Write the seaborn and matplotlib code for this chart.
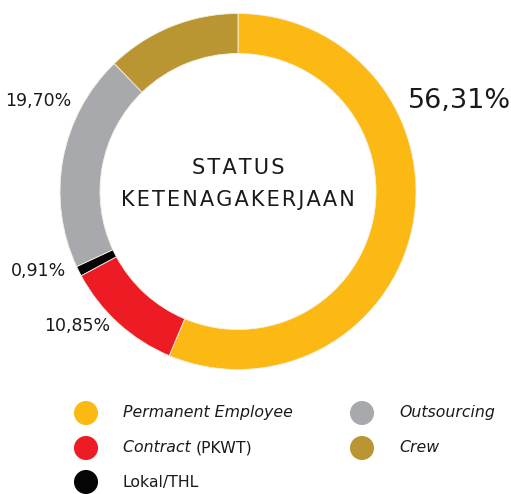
import matplotlib
matplotlib.use("Agg")
import matplotlib.pyplot as plt
import seaborn as sns
import pandas as pd

# Employment status composition (percent)
categories = ["Permanent Employee", "Contract (PKWT)", "Lokal/THL", "Outsourcing", "Crew"]
shares = [56.31, 10.85, 0.91, 19.70, 12.23]
share_labels = ["56,31%", "10,85%", "0,91%", "19,70%", None]
colors = ["#FDB913", "#ED1C24", "#050505", "#A7A9AC", "#B99632"]

sns.set_theme(style="white")
plt.rcParams["font.family"] = ["DejaVu Sans"]

W, H = 511, 494
fig = plt.figure(figsize=(W / 100, H / 100), dpi=100)
ax = fig.add_axes([0, 0, 1, 1])
ax.set_xlim(0, W)
ax.set_ylim(0, H)
ax.set_aspect("equal")
ax.axis("off")

cx, cy = 238, H - 191.5
r_out, width = 178, 40

wedges, _ = ax.pie(
    shares, colors=colors, startangle=90, counterclock=False,
    center=(cx, cy), radius=r_out, frame=True,
    wedgeprops=dict(width=width, edgecolor="#f4f0e6", linewidth=0.6),
)
ax.set_xlim(0, W)
ax.set_ylim(0, H)
ax.axis("off")

# percentage labels
label_pos = {
    "56,31%": (459, H - 101, 19.5),
    "19,70%": (38, H - 101, 12.5),
    "0,91%": (39, H - 271, 12.5),
    "10,85%": (77, H - 326, 12.5),
}
for lab in share_labels:
    if lab is None:
        continue
    x, y, fs = label_pos[lab]
    ax.text(x, y, lab, ha="center", va="center", fontsize=fs, color="#1a1a1a")

# centre title
ax.text(cx, H - 168, "\u200a".join("STATUS"), ha="center", va="center",
        fontsize=15, color="#1a1a1a")
ax.text(cx, H - 200, "\u200a".join("KETENAGAKERJAAN"), ha="center", va="center",
        fontsize=15, color="#1a1a1a")

# legend drawn as seaborn scatter dots
leg = pd.DataFrame({
    "name": categories,
    "x": [86, 86, 86, 362, 362],
    "y": [H - 413, H - 448, H - 482, H - 413, H - 448],
})
sns.scatterplot(data=leg, x="x", y="y", hue="name", palette=colors,
                s=300, linewidth=0, legend=False, ax=ax)
ax.set_xlabel("")
ax.set_ylabel("")

tc = "#1a1a1a"
fs = 11.3
ax.text(123, H - 413, "Permanent Employee", style="italic", fontsize=fs, va="center", color=tc)
t = ax.text(123, H - 448, "Contract ", style="italic", fontsize=fs, va="center", color=tc)
fig.canvas.draw()
bb = t.get_window_extent()
x_end = ax.transData.inverted().transform((bb.x1, bb.y0))[0]
ax.text(x_end, H - 448, "(PKWT)", fontsize=fs, va="center", color=tc)
ax.text(123, H - 482, "Lokal/THL", fontsize=fs, va="center", color=tc)
ax.text(399, H - 413, "Outsourcing", style="italic", fontsize=fs, va="center", color=tc)
ax.text(399, H - 448, "Crew", style="italic", fontsize=fs, va="center", color=tc)

ax.set_xlim(0, W)
ax.set_ylim(0, H)
fig.savefig("out.png", dpi=100, facecolor="white")
